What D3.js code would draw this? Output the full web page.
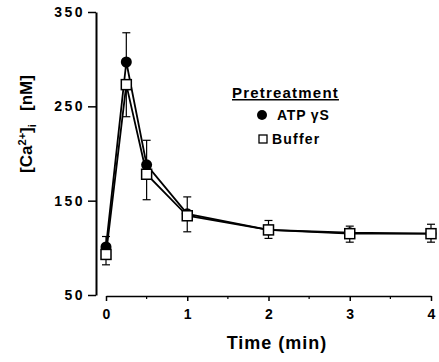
<!DOCTYPE html>
<html>
<head>
<meta charset="utf-8">
<script src="https://cdn.jsdelivr.net/npm/d3@7"></script>
<style>
  body { margin: 0; background: #fff; }
  svg { display: block; font-family: "Liberation Sans", Arial, sans-serif; font-weight: bold; }
</style>
</head>
<body>
<figure id="chart" style="margin:0"></figure>
<script>
// time points (min)
const times = [0, 0.25, 0.5, 1, 2, 3, 4];
// ATPγS pretreatment
const atpValues = [101, 297, 188, 136, 119, 116, 115];
const atpErr = [11, 31, 26, 18, 10, 7, 10];
// Buffer pretreatment
const bufValues = [93, 273, 178, 134, 119, 115, 115];
const bufErr = [11, 34, 27, 17, 9, 9, 9];

const xTicks = [0, 1, 2, 3, 4];
const xMinorTicks = [0.5, 1.5, 2.5, 3.5];
const yTicks = [50, 150, 250, 350];

const width = 439, height = 362;

const svg = d3.select("figure#chart")
  .append("svg")
  .attr("width", width)
  .attr("height", height);

const x = d3.scaleLinear().domain([0, 4]).range([106, 431]);
const y = d3.scaleLinear().domain([50, 350]).range([295, 12]);

// y axis
const yAxis = svg.append("g")
  .attr("transform", "translate(96,0)")
  .call(d3.axisLeft(y).tickValues(yTicks).tickFormat(d3.format("d"))
    .tickSize(8).tickPadding(3).tickSizeOuter(0));
yAxis.select(".domain").attr("stroke-width", 2);
yAxis.selectAll(".tick line").attr("stroke-width", 1.5);
yAxis.selectAll("text")
  .attr("font-size", 14)
  .attr("font-weight", "bold")
  .attr("letter-spacing", 2.5)
  .attr("font-family", "Liberation Sans, Arial, sans-serif");

// x axis
const xAxis = svg.append("g")
  .attr("transform", "translate(0,296)")
  .call(d3.axisBottom(x).tickValues(xTicks).tickFormat(d3.format("d"))
    .tickSize(5).tickPadding(8).tickSizeOuter(0));
xAxis.select(".domain").attr("stroke-width", 1.5);
xAxis.selectAll(".tick line").attr("stroke-width", 1.5);
xAxis.selectAll("text")
  .attr("font-size", 14)
  .attr("font-weight", "bold")
  .attr("font-family", "Liberation Sans, Arial, sans-serif");
svg.append("g")
  .attr("transform", "translate(0,296)")
  .selectAll("line")
  .data(xMinorTicks)
  .enter()
  .append("line")
  .attr("x1", d => x(d)).attr("x2", d => x(d))
  .attr("y1", 0).attr("y2", 3)
  .attr("stroke", "#000").attr("stroke-width", 1.2);

// axis titles
svg.append("text")
  .attr("x", 277)
  .attr("y", 349)
  .attr("text-anchor", "middle")
  .attr("font-size", 18)
  .attr("letter-spacing", 1)
  .text("Time (min)");

const yl = svg.append("text")
  .attr("transform", "translate(32,124) rotate(-90)")
  .attr("text-anchor", "middle")
  .attr("font-size", 17);
yl.append("tspan").text("[Ca");
yl.append("tspan").attr("font-size", 11).attr("dy", -6).text("2+");
yl.append("tspan").attr("dy", 6).text("]");
yl.append("tspan").attr("font-size", 11).attr("dy", 4).text("i");
yl.append("tspan").attr("dy", -4).text("\u2002 [nM]");

// series
const atp = times.map((t, i) => ({ t, v: atpValues[i], e: atpErr[i] }));
const buf = times.map((t, i) => ({ t, v: bufValues[i], e: bufErr[i] }));

const line = d3.line().x(d => x(d.t)).y(d => y(d.v));

// error bars
function errorBars(data, dir) {
  const g = svg.append("g").attr("stroke", "#000").attr("stroke-width", 1.2);
  g.selectAll("line.bar").data(data).enter().append("line")
    .attr("x1", d => x(d.t)).attr("x2", d => x(d.t))
    .attr("y1", d => y(d.v)).attr("y2", d => y(d.v + dir * d.e));
  g.selectAll("line.cap").data(data).enter().append("line")
    .attr("x1", d => x(d.t) - 4).attr("x2", d => x(d.t) + 4)
    .attr("y1", d => y(d.v + dir * d.e)).attr("y2", d => y(d.v + dir * d.e));
}
errorBars(atp, 1);
errorBars(buf, -1);

svg.append("path").datum(atp)
  .attr("d", line).attr("fill", "none").attr("stroke", "#000").attr("stroke-width", 1.8);
svg.append("path").datum(buf)
  .attr("d", line).attr("fill", "none").attr("stroke", "#000").attr("stroke-width", 1.8);

svg.append("g").selectAll("circle").data(atp).enter().append("circle")
  .attr("cx", d => x(d.t)).attr("cy", d => y(d.v)).attr("r", 5.5).attr("fill", "#000");

svg.append("g").selectAll("rect").data(buf).enter().append("rect")
  .attr("x", d => x(d.t) - 5).attr("y", d => y(d.v) - 5)
  .attr("width", 10).attr("height", 10)
  .attr("fill", "#fff").attr("stroke", "#000").attr("stroke-width", 1.5);

// legend
const lg = svg.append("g");
lg.append("text").attr("x", 232).attr("y", 98).attr("font-size", 15)
  .attr("letter-spacing", 1.2).attr("text-decoration", "underline").text("Pretreatment");
lg.append("circle").attr("cx", 262).attr("cy", 115).attr("r", 5).attr("fill", "#000");
lg.append("text").attr("x", 277).attr("y", 120).attr("font-size", 14)
  .attr("letter-spacing", 0.8).text("ATP \u03B3S");
lg.append("rect").attr("x", 259).attr("y", 135).attr("width", 8).attr("height", 8)
  .attr("fill", "#fff").attr("stroke", "#000").attr("stroke-width", 1.3);
lg.append("text").attr("x", 272).attr("y", 144).attr("font-size", 14)
  .attr("letter-spacing", 1.2).text("Buffer");
</script>
</body>
</html>
